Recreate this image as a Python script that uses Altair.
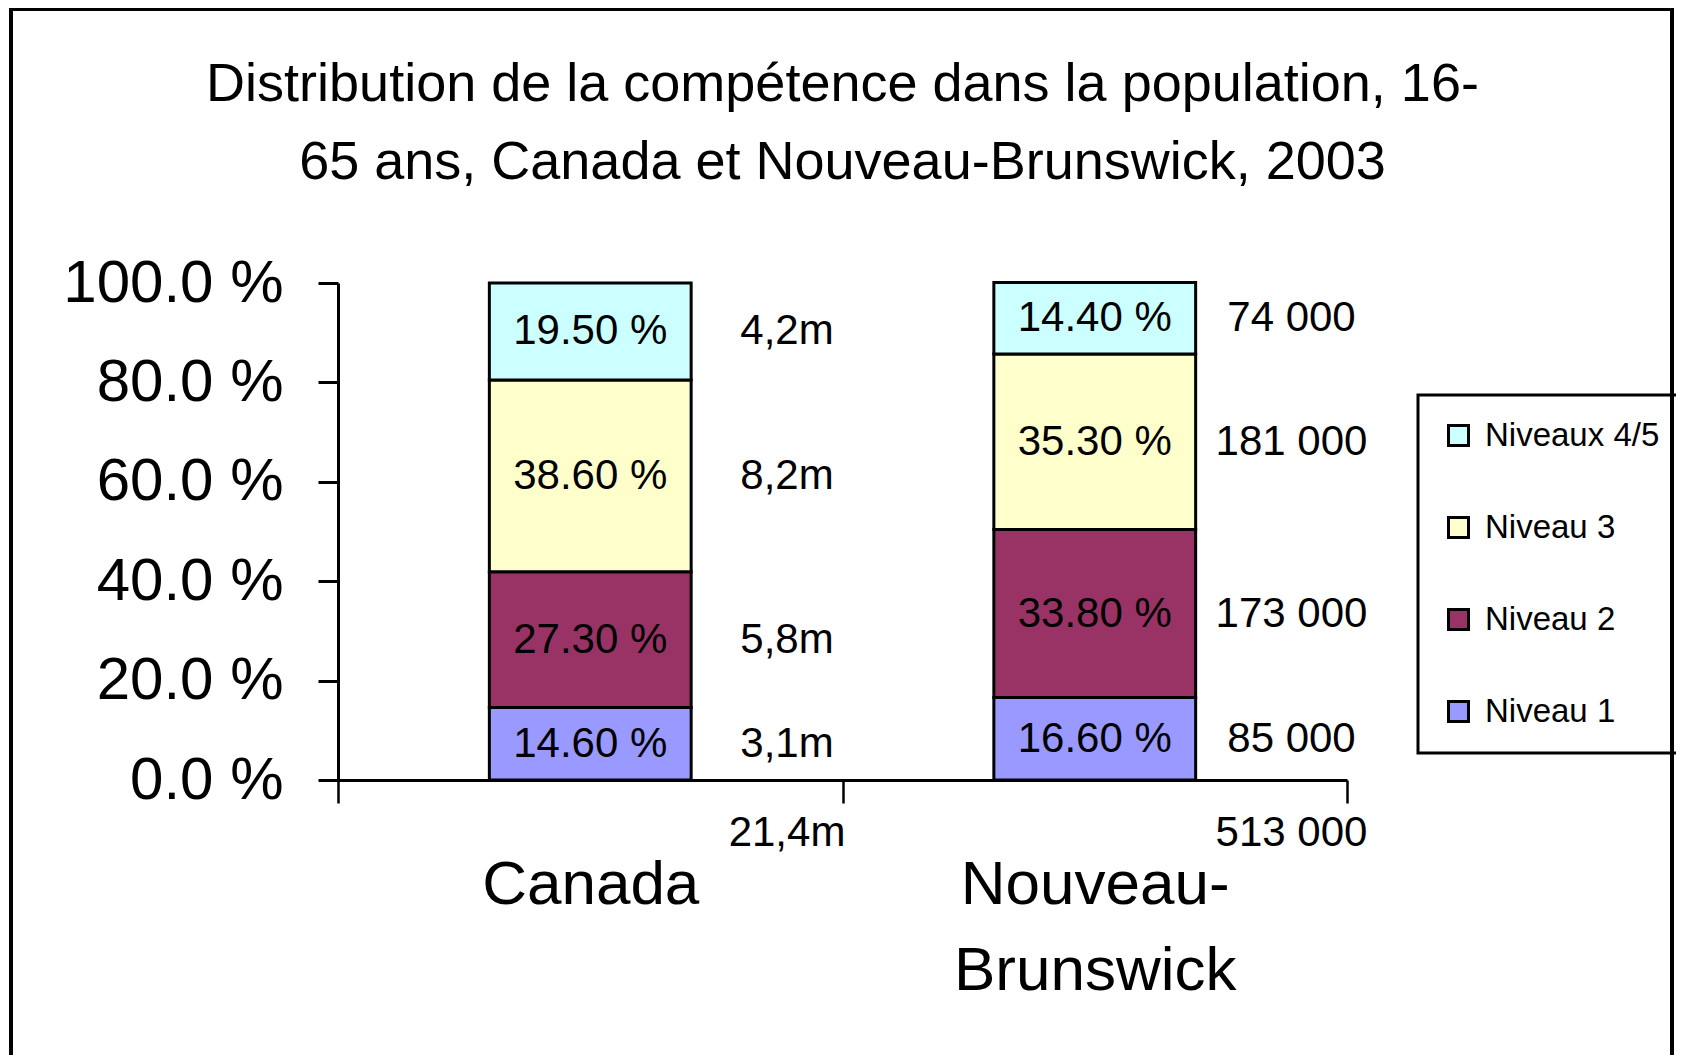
import altair as alt
import pandas as pd

FONT = "Liberation Sans"

categories = ["Canada", "Nouveau-Brunswick"]
levels = ["Niveau 1", "Niveau 2", "Niveau 3", "Niveaux 4/5"]
level_colors = ["#9999FF", "#993366", "#FFFFCC", "#CCFFFF"]
canada_pct = [14.6, 27.3, 38.6, 19.5]
nb_pct = [16.6, 33.8, 35.3, 14.4]
canada_counts = ["3,1m", "5,8m", "8,2m", "4,2m"]
nb_counts = ["85 000", "173 000", "181 000", "74 000"]
totals = ["21,4m", "513 000"]
y_ticks = [0, 20, 40, 60, 80, 100]
title_lines = [
    "Distribution de la compétence dans la population, 16-",
    "65 ans, Canada et Nouveau-Brunswick, 2003",
]

rows = []
for cat, pcts, counts in zip(categories, [canada_pct, nb_pct], [canada_counts, nb_counts]):
    cum = 0.0
    for i, (lvl, p, c) in enumerate(zip(levels, pcts, counts)):
        rows.append(dict(cat=cat, level=lvl, order=i, pct=p, lo=cum, hi=cum + p,
                         mid=cum + p / 2, count=c, label=f"{p:.2f} %"))
        cum += p
df = pd.DataFrame(rows)
tot_df = pd.DataFrame({"cat": categories, "total": totals})

W, H = 1009, 497
yscale = alt.Scale(domain=[0, 100], nice=False)
xscale = alt.Scale(domain=categories, paddingInner=0, paddingOuter=0)

label_expr_x = ("indexof(datum.label,'-')>0 ? [slice(datum.label,0,indexof(datum.label,'-')+1),"
                " slice(datum.label,indexof(datum.label,'-')+1)] : datum.label")

frame = alt.Chart(pd.DataFrame({"f": [0]})).mark_rect(
    fillOpacity=0, stroke="black", strokeWidth=4
).encode(
    x=alt.value(-327), x2=alt.value(1334), y=alt.value(-274), y2=alt.value(830)
)

bars = alt.Chart(df).mark_bar(
    stroke="black", strokeWidth=3, width=alt.RelativeBandSize(0.4)
).encode(
    x=alt.X("cat:N", sort=categories, scale=xscale, title=None,
            axis=alt.Axis(tickBand="extent", labelExpr=label_expr_x, labelFontSize=62,
                          labelPadding=51, tickSize=23, tickWidth=2.5, domainWidth=3,
                          labelAngle=0, labelLineHeight=86, labelAlign="center",
                          labelLimit=600)),
    y=alt.Y("lo:Q", scale=yscale, title=None,
            axis=alt.Axis(values=y_ticks, labelExpr="format(datum.value,'.1f') + ' %'",
                          labelFontSize=60, labelPadding=35, tickSize=20, tickWidth=3,
                          domainWidth=3, labelLimit=600)),
    y2="hi:Q",
    color=alt.Color("level:N",
                    scale=alt.Scale(domain=levels[::-1], range=level_colors[::-1]),
                    legend=alt.Legend(title=None, orient="none", legendX=1080, legendY=112,
                                      symbolType="square", symbolSize=400,
                                      symbolStrokeColor="black", symbolStrokeWidth=3,
                                      labelFont=FONT, labelFontSize=33, labelOffset=10,
                                      rowPadding=58, padding=24, strokeColor="black",
                                      labelLimit=500)),
)

pct_text = alt.Chart(df).mark_text(
    font=FONT, fontSize=42, baseline="middle", align="center", color="black"
).encode(
    x=alt.X("cat:N", sort=categories, title=None),
    y=alt.Y("mid:Q", title=None),
    text="label:N",
)

count_text = alt.Chart(df).mark_text(
    font=FONT, fontSize=42, baseline="middle", align="center", color="black"
).encode(
    x=alt.X("cat:N", sort=categories, title=None, bandPosition=0.89),
    y=alt.Y("mid:Q", title=None),
    text="count:N",
)

total_text = alt.Chart(tot_df).mark_text(
    font=FONT, fontSize=42, baseline="alphabetic", align="center", color="black", dy=66
).encode(
    x=alt.X("cat:N", sort=categories, title=None, bandPosition=0.89),
    y=alt.datum(0),
    text="total:N",
)

chart = alt.layer(frame, bars, pct_text, count_text, total_text).properties(
    width=W, height=H,
    title=alt.Title(title_lines, font=FONT, fontSize=54, fontWeight="normal",
                    lineHeight=78, anchor="middle", frame="group", color="black",
                    offset=-183),
    padding={"left": 330, "top": 275, "right": 329, "bottom": 275},
    autosize=alt.AutoSizeParams(type="none"),
).configure_view(strokeWidth=0).configure_axis(
    labelFont=FONT, labelColor="black", domainColor="black", tickColor="black", grid=False
).configure_legend(strokeWidth=3)

chart.save("out.html", embed_options={"renderer": "svg", "actions": False})
